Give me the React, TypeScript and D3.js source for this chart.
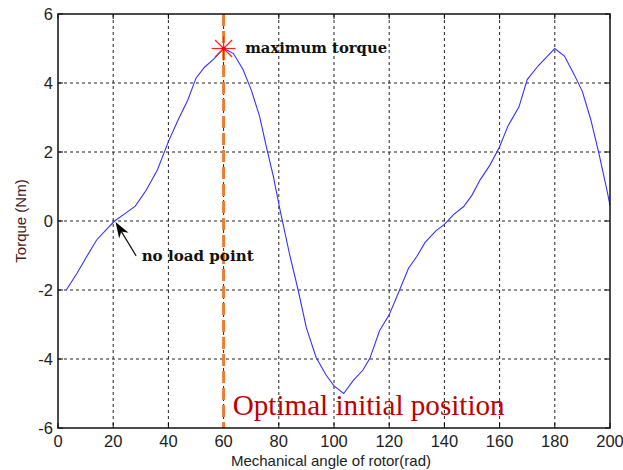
import React from "react";
import * as d3 from "d3";

const angle = [3, 7, 11, 14, 17.5, 20.5, 24, 28, 32, 36, 40, 43.5, 47, 50, 53, 56.5, 60, 63.5, 67, 70, 73, 75.5, 78, 80.5, 84, 87, 90, 93.5, 97, 100, 103.5, 107, 110.5, 113, 116.5, 120, 123.5, 127, 130, 133, 137, 140, 143.5, 147, 150, 153, 156.5, 160, 163, 167, 170, 174, 177, 180, 183.5, 187, 190, 193, 196, 199, 200];
const torque = [-2.0, -1.5, -0.95, -0.55, -0.25, 0.0, 0.2, 0.43, 0.9, 1.48, 2.3, 2.93, 3.5, 4.14, 4.45, 4.7, 5.0, 4.86, 4.4, 3.8, 3.05, 2.15, 1.3, 0.3, -1.0, -2.0, -3.1, -3.95, -4.45, -4.78, -5.0, -4.62, -4.32, -3.98, -3.18, -2.72, -2.05, -1.37, -1.03, -0.62, -0.28, -0.1, 0.2, 0.42, 0.75, 1.2, 1.62, 2.15, 2.75, 3.3, 4.1, 4.5, 4.75, 5.0, 4.78, 4.25, 3.75, 2.95, 1.95, 0.85, 0.45];

const xTicks = [0, 20, 40, 60, 80, 100, 120, 140, 160, 180, 200];
const yTicks = [-6, -4, -2, 0, 2, 4, 6];

const xTitle = "Mechanical angle of rotor(rad)";
const yTitle = "Torque (Nm)";
const optimalX = 60;
const maxPoint = [60, 5.0];
const noLoadPoint = [20.5, 0];
const noLoadTail = [28.3, -1.01];
const maxLabel = "maximum torque";
const noLoadLabel = "no load point";
const optimalLabel = "Optimal initial position";

const W = 623, H = 470;
const L = 58, R = 610, T = 14, B = 428;

export default function App() {
  const x = d3.scaleLinear().domain([0, 200]).range([L, R]);
  const y = d3.scaleLinear().domain([-6, 6]).range([B, T]);
  const pts = angle.map((a, i) => [a, torque[i]] as [number, number]);
  const line = d3.line<[number, number]>().x(d => x(d[0])).y(d => y(d[1]));

  const tipX = x(noLoadPoint[0]) + 1, tipY = y(noLoadPoint[1]) + 1;
  const tailX = x(noLoadTail[0]), tailY = y(noLoadTail[1]);
  const dx = tailX - tipX, dy = tailY - tipY;
  const len = Math.hypot(dx, dy);
  const ux = dx / len, uy = dy / len;
  const nx = -uy, ny = ux;
  const hb = 16, hw = 5.5, notch = 11;
  const head = [
    [tipX, tipY],
    [tipX + ux * hb + nx * hw, tipY + uy * hb + ny * hw],
    [tipX + ux * notch, tipY + uy * notch],
    [tipX + ux * hb - nx * hw, tipY + uy * hb - ny * hw],
  ];

  const mx = x(maxPoint[0]), my = y(maxPoint[1]);
  const sr = 12;
  const starAngles = [0, 45, 90, 135];

  return (
    <svg width={W} height={H} style={{ position: "absolute", left: 0, top: 0, background: "#fff" }}>
      <rect x={0} y={0} width={W} height={H} fill="#fff" />
      {xTicks.slice(1, -1).map(t => (
        <line key={"gx" + t} x1={x(t)} x2={x(t)} y1={T} y2={B} stroke="#222" strokeWidth={1} strokeDasharray="3,3" />
      ))}
      {yTicks.slice(1, -1).map(t => (
        <line key={"gy" + t} x1={L} x2={R} y1={y(t)} y2={y(t)} stroke="#222" strokeWidth={1} strokeDasharray="3,3" />
      ))}
      {xTicks.map(t => (
        <g key={"tx" + t}>
          <line x1={x(t)} x2={x(t)} y1={B} y2={B - 5} stroke="#000" />
          <line x1={x(t)} x2={x(t)} y1={T} y2={T + 5} stroke="#000" />
          <text x={x(t)} y={447} textAnchor="middle" fontFamily="Liberation Sans, Arial, sans-serif" fontSize={16.5} fill="#222">{t}</text>
        </g>
      ))}
      {yTicks.map(t => (
        <g key={"ty" + t}>
          <line x1={L} x2={L + 5} y1={y(t)} y2={y(t)} stroke="#000" />
          <line x1={R} x2={R - 5} y1={y(t)} y2={y(t)} stroke="#000" />
          <text x={53} y={y(t) + 6} textAnchor="end" fontFamily="Liberation Sans, Arial, sans-serif" fontSize={16.5} fill="#222">{t}</text>
        </g>
      ))}
      <path d={line(pts) || ""} fill="none" stroke="#3333ff" strokeWidth={1.1} />
      <line x1={x(optimalX)} x2={x(optimalX)} y1={T} y2={B} stroke="#ED7D31" strokeWidth={3} strokeDasharray="12,5" />
      {starAngles.map(a => {
        const r = (a * Math.PI) / 180;
        return <line key={"s" + a} x1={mx - sr * Math.cos(r)} y1={my - sr * Math.sin(r)} x2={mx + sr * Math.cos(r)} y2={my + sr * Math.sin(r)} stroke="#ff2020" strokeWidth={1.2} />;
      })}
      <circle cx={mx} cy={my} r={2} fill="#ff0000" />
      <rect x={L} y={T} width={R - L} height={B - T} fill="none" stroke="#111" strokeWidth={1.5} />
      <line x1={tailX} y1={tailY} x2={tipX + ux * notch} y2={tipY + uy * notch} stroke="#111" strokeWidth={1.2} />
      <path d={"M" + head.map(p => p.join(",")).join("L") + "Z"} fill="#000" />
      <text x={x(67.8)} y={y(4.87)} fontFamily="DejaVu Serif, serif" fontWeight="bold" fontSize={15.5} fill="#111" textLength={142} lengthAdjust="spacingAndGlyphs">{maxLabel}</text>
      <text x={x(30.3)} y={y(-1.16)} fontFamily="DejaVu Serif, serif" fontWeight="bold" fontSize={15.5} fill="#111" textLength={112} lengthAdjust="spacingAndGlyphs">{noLoadLabel}</text>
      <text x={x(63.3)} y={y(-5.62)} fontFamily="Liberation Serif, Times New Roman, serif" fontSize={29} fill="#c00000" textLength={272} lengthAdjust="spacingAndGlyphs">{optimalLabel}</text>
      <text x={331} y={466} textAnchor="middle" fontFamily="Liberation Sans, Arial, sans-serif" fontSize={15} fill="#222">{xTitle}</text>
      <text transform={`translate(26,${(T + B) / 2}) rotate(-90)`} textAnchor="middle" fontFamily="Liberation Sans, Arial, sans-serif" fontSize={15} fill="#4a1818">{yTitle}</text>
    </svg>
  );
}
